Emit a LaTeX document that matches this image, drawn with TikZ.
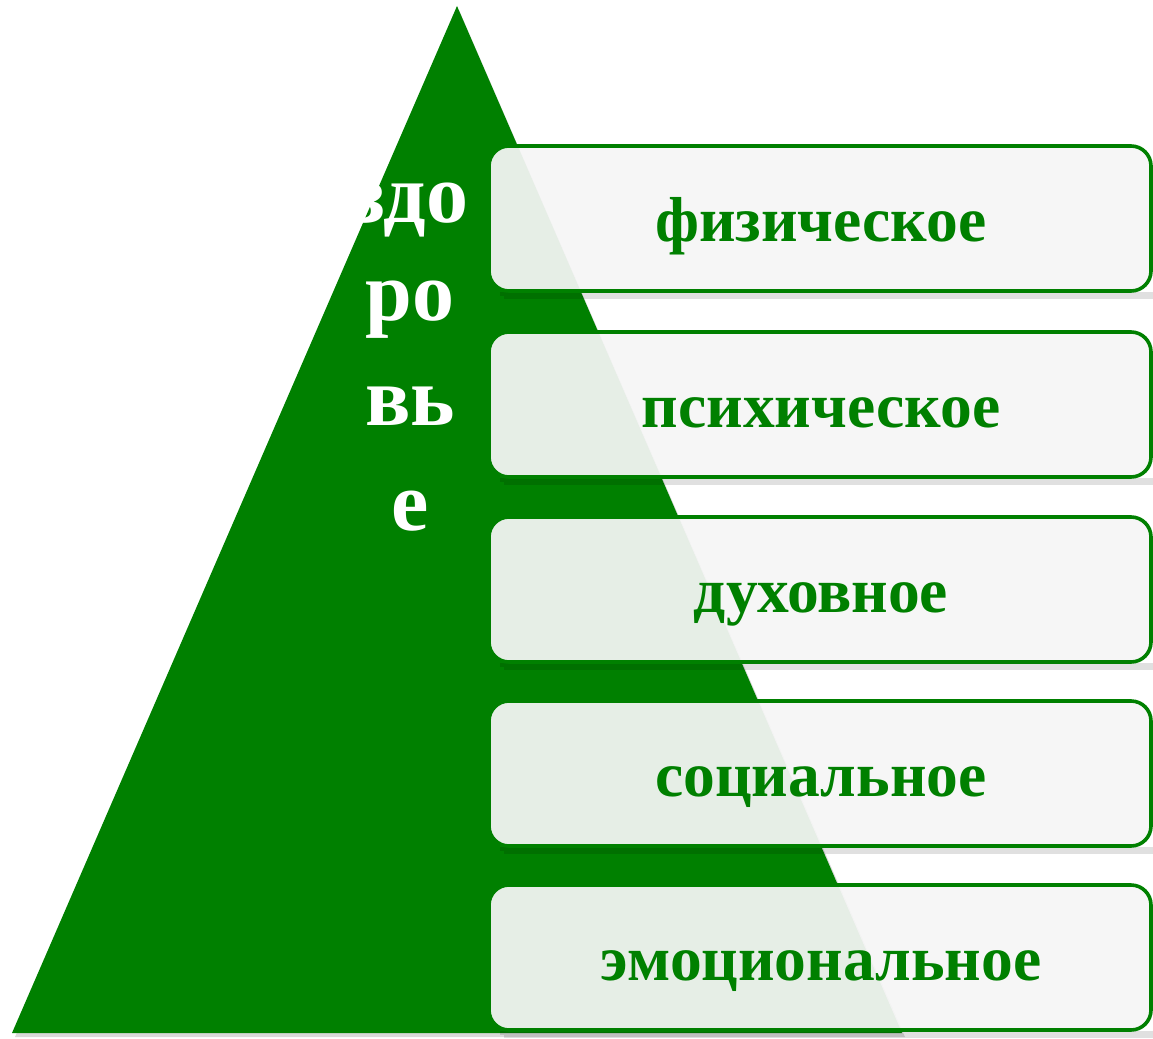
\documentclass[tikz,border=0pt]{standalone}
\usepackage{fontspec}
\setmainfont{Liberation Serif}
\definecolor{pg}{RGB}{0,128,0}
\definecolor{boxfill}{RGB}{245,245,245}
\tikzset{
  tri/.style={fill=pg, draw=none},
  itembox/.style={draw=pg, line width=3.6pt, fill=boxfill, fill opacity=0.94, rounded corners=20pt},
  itemshadow/.style={fill=black, opacity=0.12},
  itemtext/.style={anchor=base, text=pg, font=\fontsize{63.5}{70}\selectfont\bfseries, inner sep=0pt},
  wordtext/.style={anchor=base, text=white, font=\fontsize{84}{100}\selectfont\bfseries, inner sep=0pt}
}
\begin{document}
\begin{tikzpicture}[x=1pt,y=-1pt]
\useasboundingbox (0,0) rectangle (1153,1038);
% triangle shadow
\fill[black, opacity=0.15] (459,10) -- (15,1037) -- (905,1037) -- cycle;
\path[tri] (457,6) coordinate (apex) -- (12,1033) coordinate (bl) -- (902,1033) coordinate (br) -- cycle;
% vertical word
\node[wordtext] (w1) at (410,222) {здо};
\node[wordtext] (w2) at (410,320) {ро};
\node[wordtext] (w3) at (410,425) {вь};
\node[wordtext] (w4) at (410,530) {е};
% boxes
\foreach \i/\t/\w in {1/146/физическое, 2/332/психическое, 3/517/духовное, 4/701/социальное, 5/885/эмоциональное}{
  \fill[itemshadow] (500,\t+146) rectangle (1153,\t+150);
  \fill[itemshadow] (504,\t+150) rectangle (1153,\t+153);
  \draw[itembox] (489,\t) rectangle (1151,\t+145);
  \node[itemtext] (t\i) at (821,\t+95) {\w};
}
\end{tikzpicture}
\end{document}
